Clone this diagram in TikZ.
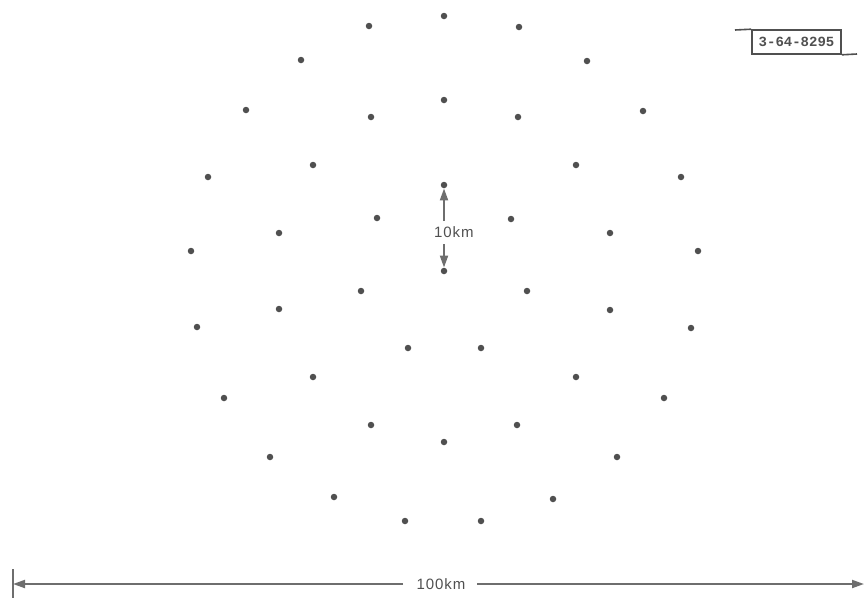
\documentclass[tikz,border=0pt]{standalone}
\usepackage{fontspec}
\setmainfont{Liberation Sans}
\newfontfamily\labfont{Liberation Mono}
\newfontfamily\dimfont[LetterSpace=6]{Liberation Sans}
\usetikzlibrary{arrows.meta}
\definecolor{dotgray}{HTML}{505050}
\definecolor{linegray}{HTML}{6E6E6E}
\tikzset{
  stn/.style={circle,fill=dotgray,draw=none,inner sep=0pt,minimum size=6.5pt},
  dimline/.style={draw=linegray,line width=2pt,-{Triangle[length=12pt,width=8pt]}},
  dimtext/.style={text=dotgray,font=\dimfont\fontsize{15}{15}\selectfont,inner sep=0pt},
}
\begin{document}
\begin{tikzpicture}[x=1pt,y=-1pt]
\useasboundingbox (0,0) rectangle (864,598);
% stations
\foreach \n/\x/\y in {
 a1/444/16, a2/369/26, a3/519/27,
 b1/301/60, b2/587/61,
 c1/246/110, c2/444/100, c3/371/117, c4/518/117, c5/643/111,
 d1/208/177, d2/313/165, d3/576/165, d4/681/177,
 e1/377/218, e2/511/219,
 f1/279/233, f2/610/233,
 g1/191/251, g2/698/251,
 h1/361/291, h2/527/291,
 i1/279/309, i2/610/310,
 j1/197/327, j2/691/328,
 k1/408/348, k2/481/348,
 l1/313/377, l2/576/377,
 m1/224/398, m2/664/398,
 n1/371/425, n2/444/442, n3/517/425,
 o1/270/457, o2/617/457,
 p1/334/497, p2/553/499,
 q1/405/521, q2/481/521}
 \node[stn] (\n) at (\x,\y) {};
\node[stn] (top) at (444,185) {};
\node[stn] (bot) at (444,271) {};
% 10 km dimension
\node[dimtext,anchor=west] (ten) at (434,232) {10km};
\coordinate (tenu) at (444,221);
\coordinate (tend) at (444,244);
\draw[dimline] (tenu) -- (top);
\draw[dimline] (tend) -- (bot);
% 100 km scale
\node[dimtext] (hund) at (441,584) {100km};
\coordinate (tickt) at (13,569);
\coordinate (tickb) at (13,598);
\coordinate (sl) at (13,584);
\coordinate (sr) at (864,584);
\coordinate (gl) at (403,584);
\coordinate (gr) at (477,584);
\draw[draw=linegray,line width=1.6pt] (tickt) -- (tickb);
\draw[dimline] (gl) -- (sl);
\draw[dimline] (gr) -- (sr);
% label box
\node[draw=dotgray,line width=1.6pt,minimum width=89pt,minimum height=24pt,inner sep=0pt,text=dotgray,font=\labfont\bfseries\fontsize{14}{14}\selectfont] (lab) at (796.5,42) {3-64-8295};
\coordinate (labl) at (735,30);
\coordinate (labr) at (857,54);
\draw[draw=dotgray,line width=1.6pt] (labl) -- (lab.north west);
\draw[draw=dotgray,line width=1.6pt] (lab.south east) -- (labr);
\end{tikzpicture}
\end{document}
